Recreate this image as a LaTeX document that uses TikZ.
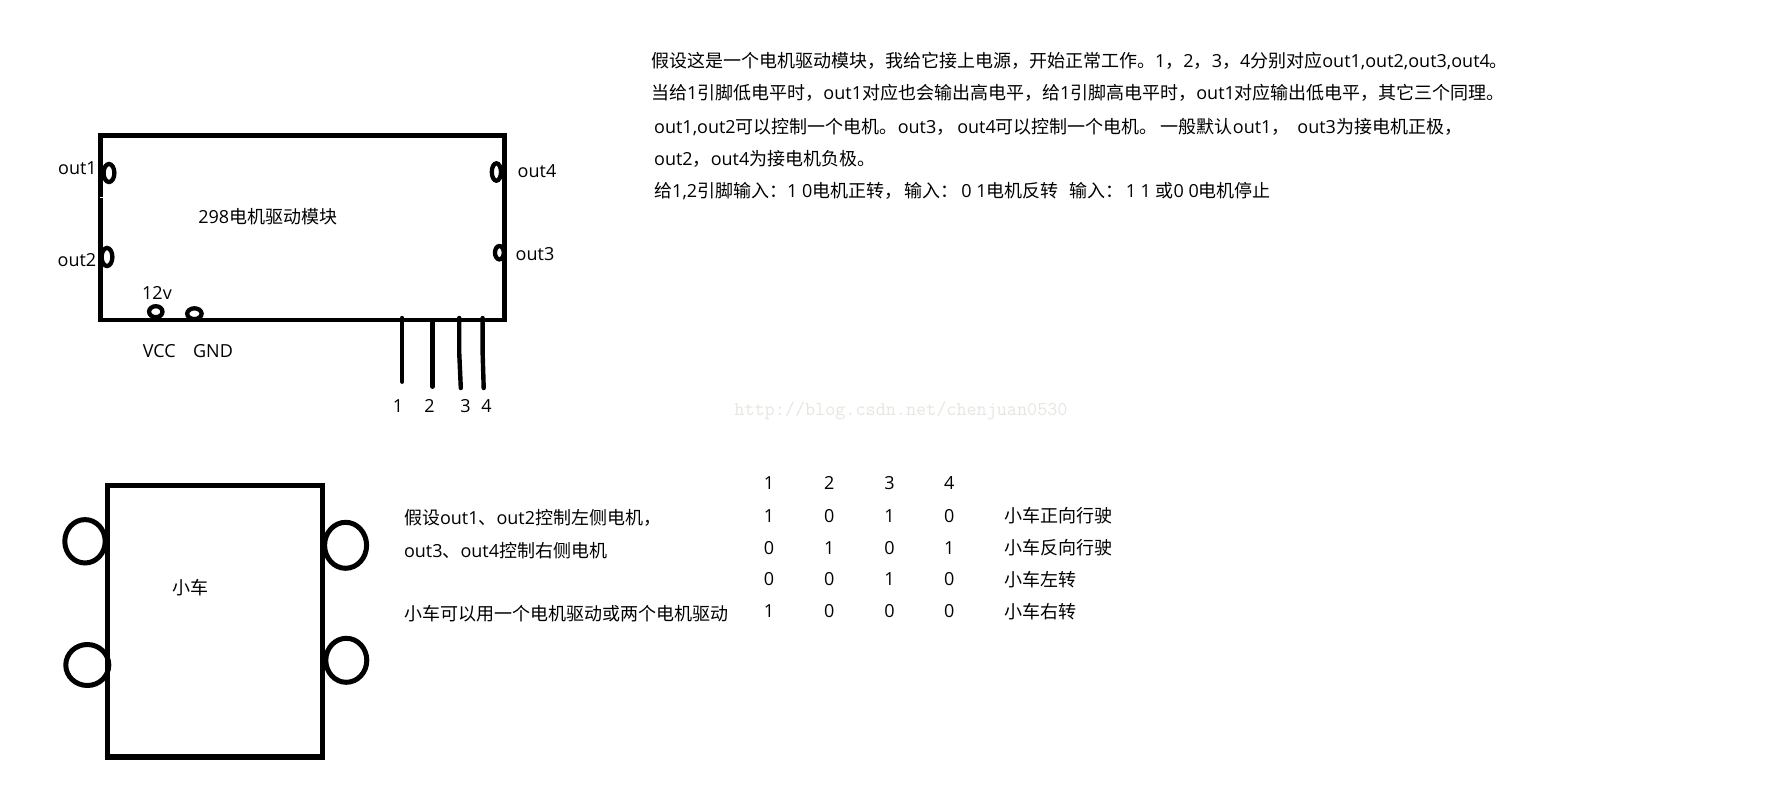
\documentclass[tikz,border=0pt]{standalone}
\usepackage{fontspec}
\setmainfont{Noto Sans CJK SC}
\newfontfamily\latfont{Open Sans}
\newcommand{\lat}[1]{{\latfont #1}}
\usepackage{xcolor}
\definecolor{markgray}{HTML}{E6E6E0}
\tikzset{
	txt/.style={inner sep=0pt,font=\fontsize{18}{20}\selectfont},
	para/.style={txt,anchor=west},
	frame/.style={line width=4.8pt},
	pad/.style={line width=4.3pt},
	pin/.style={line width=4.4pt,line cap=round},
	wheel/.style={line width=5pt}
}
\begin{document}
\begin{tikzpicture}[x=1pt,y=-1pt]
\useasboundingbox (0,0) rectangle (1783,800);
% module
\draw[frame] (100.3,135.3) rectangle (504.4,320);
\draw[white,line width=1.5pt] (100,197.7) -- (103,197.7);
\draw[pad] (109,173) ellipse (5.4 and 9);
\draw[pad] (107,257) ellipse (5.4 and 9);
\draw[pad] (496.4,172) ellipse (4.6 and 8.7);
\draw[pad] (499.4,252.7) ellipse (4.4 and 6.7);
\draw[pad] (155.8,311.7) ellipse (6.7 and 5.5);
\draw[pad] (194.4,313.7) ellipse (7.2 and 5.4);
\node[txt] (out1) at (77.5,167.7) {\lat{out1}};
\node[txt] (out2) at (77,260) {\lat{out2}};
\node[txt] (out4) at (537,170.7) {\lat{out4}};
\node[txt] (out3) at (535,253.7) {\lat{out3}};
\node[txt] (vin) at (157,293) {\lat{12v}};
\node[txt] (vcc) at (159.2,350.7) {\lat{VCC}};
\node[txt] (gnd) at (213,351) {\lat{GND}};
\node[txt] (module) at (267.7,216.7) {\lat{298}电机驱动模块};
% pins
\draw[pin] (402.2,318) -- (402.2,381.7);
\draw[pin] (432.4,321) -- (432.4,386.7);
\draw[pin] (459.2,318) -- (459.2,352) -- (460.8,388);
\draw[pin] (482.6,318) -- (482.6,352) -- (483.7,388);
\node[txt] (pin1) at (398,406) {\lat{1}};
\node[txt] (pin2) at (429.4,406) {\lat{2}};
\node[txt] (pin3) at (465.4,406) {\lat{3}};
\node[txt] (pin4) at (486.4,406) {\lat{4}};
% notes
\node[para] (note1) at (651,60.7) {假设这是一个电机驱动模块，我给它接上电源，开始正常工作。\lat{1}，\lat{2}，\lat{3}，\lat{4}分别对应\lat{out1,out2,out3,out4}。};
\node[para] (note2) at (651,92.7) {当给\lat{1}引脚低电平时，\lat{out1}对应也会输出高电平，给\lat{1}引脚高电平时，\lat{out1}对应输出低电平，其它三个同理。};
\node[para] (note3) at (654,127) {\lat{out1,out2}可以控制一个电机。\lat{out3}，\kern3pt\lat{out4}可以控制一个电机。\kern3pt 一般默认\lat{out1}，\kern8pt\lat{out3}为接电机正极，};
\node[para] (note4) at (654,159.3) {\lat{out2}，\lat{out4}为接电机负极。};
\node[para] (note5) at (654,190.7) {给\lat{1,2}引脚输入：\lat{1 0}电机正转，\kern2pt 输入：\kern3pt\lat{0 1}电机反转\ \ \kern3pt 输入：\kern2pt\lat{1 1 }或\lat{0 0}电机停止};
\node[inner sep=0pt,font=\fontsize{19.6}{21}\selectfont\ttfamily,text=markgray] (mark) at (901,410.7) {http://blog.csdn.net/chenjuan0530};
% car
\draw[line width=5.2pt] (107.5,485.7) rectangle (322.2,757);
\draw[wheel] (85,541.3) ellipse (20.2 and 21.7);
\draw[wheel] (87.3,665) ellipse (21.5 and 20.5);
\draw[wheel] (345.6,545.3) ellipse (21 and 23);
\draw[wheel] (346.3,660.3) ellipse (20.5 and 22);
\node[txt] (car) at (190,588) {小车};
\node[para] (left1) at (403.8,518.3) {假设\lat{out1}、\lat{out2}控制左侧电机，};
\node[para] (left2) at (403.8,551) {\lat{out3}、\lat{out4}控制右侧电机};
\node[para] (left3) at (403.8,614) {小车可以用一个电机驱动或两个电机驱动};
% table
\foreach \rowy/\a/\b/\c/\d/\what in {483.3/1/2/3/4/,515.7/1/0/1/0/小车正向行驶,547.7/0/1/0/1/小车反向行驶,579.3/0/0/1/0/小车左转,611.3/1/0/0/0/小车右转} {
	\node[txt] (a\rowy) at (769,\rowy) {\lat{\a}};
	\node[txt] (b\rowy) at (829.3,\rowy) {\lat{\b}};
	\node[txt] (c\rowy) at (889.5,\rowy) {\lat{\c}};
	\node[txt] (d\rowy) at (949.2,\rowy) {\lat{\d}};
	\node[para] (t\rowy) at (1003.8,\rowy) {\what};
}
\end{tikzpicture}
\end{document}
